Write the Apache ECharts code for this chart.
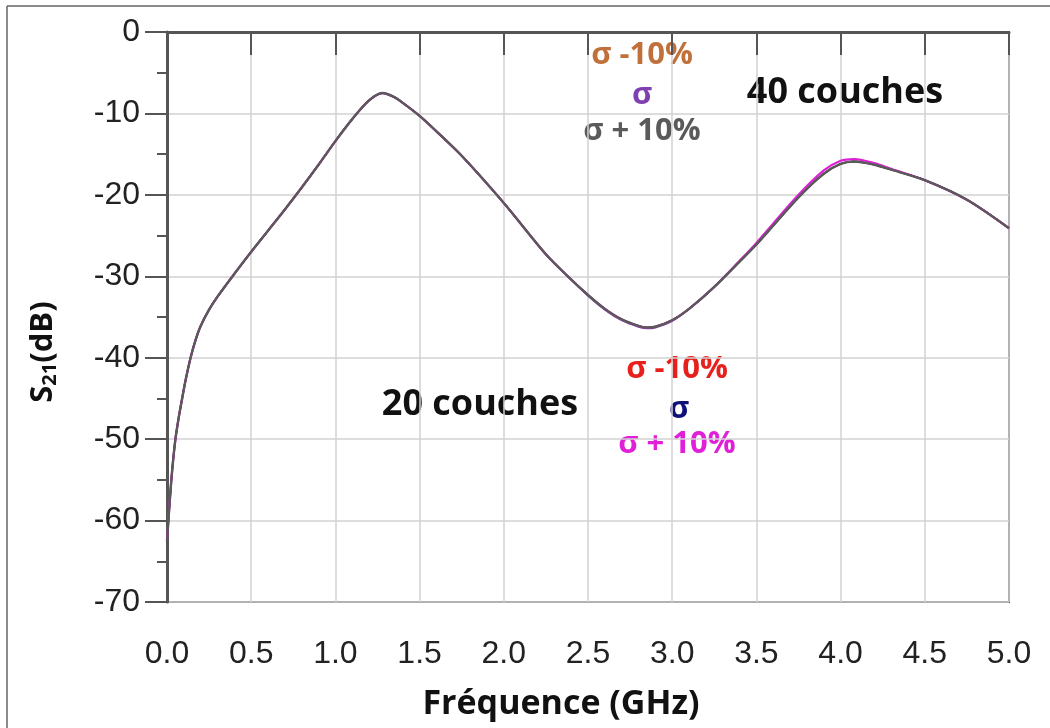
<!DOCTYPE html>
<html lang="fr">
<head>
    <meta charset="UTF-8">
    <title>S21 - 20 / 40 couches</title>
    <style>
        body { margin: 0; background: #fff; }
        #chart { width: 1050px; height: 728px; }
    </style>
</head>
<body>
    <div id="chart"></div>
    <script src="https://cdn.jsdelivr.net/npm/echarts@6/dist/echarts.min.js"></script>
    <script>
        // fréquence (GHz)
        const freq = [0.0, 0.005, 0.015, 0.03, 0.05, 0.07, 0.09, 0.11, 0.14, 0.17, 0.2, 0.25, 0.3, 0.4, 0.5, 0.6, 0.7, 0.8, 0.9, 1.0, 1.1, 1.2, 1.28, 1.35, 1.4, 1.5, 1.6, 1.75, 2.0, 2.25, 2.38, 2.5, 2.6, 2.7, 2.8, 2.85, 2.9, 3.0, 3.1, 3.25, 3.4, 3.5, 3.75, 3.9, 4.0, 4.08, 4.2, 4.3, 4.5, 4.75, 5.0];

        // 20 couches
        const s20Minus = [-62.5, -61, -58, -54, -50, -47.3, -45, -42.8, -40, -37.8, -36.1, -34.1, -32.5, -29.7, -27, -24.4, -21.8, -19.1, -16.3, -13.4, -10.7, -8.4, -7.5, -8, -8.7, -10.3, -12.2, -15.2, -21, -27.3, -30, -32.3, -34, -35.3, -36.1, -36.3, -36.2, -35.4, -34, -31.3, -28.2, -26.1, -20.3, -17.4, -16.2, -15.9, -16.3, -16.9, -18.2, -20.6, -24.1];
        const s20Nom = [-62.5, -61, -58, -54, -50, -47.3, -45, -42.8, -40, -37.8, -36.1, -34.1, -32.5, -29.7, -27, -24.4, -21.8, -19.1, -16.3, -13.4, -10.7, -8.4, -7.5, -8, -8.7, -10.3, -12.2, -15.2, -21, -27.3, -30, -32.3, -34, -35.3, -36.1, -36.3, -36.2, -35.4, -34, -31.3, -28.2, -26.1, -20.3, -17.4, -16.2, -15.9, -16.3, -16.9, -18.2, -20.6, -24.1];
        const s20Plus = [-62.5, -61, -58, -54, -50, -47.3, -45, -42.8, -40, -37.8, -36.1, -34.1, -32.5, -29.7, -27, -24.4, -21.8, -19.1, -16.3, -13.4, -10.7, -8.4, -7.5, -8, -8.7, -10.3, -12.2, -15.2, -21, -27.3, -30, -32.3, -34, -35.3, -36.1, -36.3, -36.2, -35.4, -34, -31.3, -28.1, -25.9, -20.0, -17.0, -15.8, -15.6, -16.1, -16.8, -18.2, -20.6, -24.1];

        // 40 couches
        const s40Minus = [-62.5, -61, -58, -54, -50, -47.3, -45, -42.8, -40, -37.8, -36.1, -34.1, -32.5, -29.7, -27, -24.4, -21.8, -19.1, -16.3, -13.4, -10.7, -8.4, -7.5, -8, -8.7, -10.3, -12.2, -15.2, -21, -27.3, -30, -32.3, -34, -35.3, -36.1, -36.3, -36.2, -35.4, -34, -31.3, -28.2, -26.1, -20.3, -17.4, -16.2, -15.9, -16.3, -16.9, -18.2, -20.6, -24.1];
        const s40Nom = [-62.5, -61, -58, -54, -50, -47.3, -45, -42.8, -40, -37.8, -36.1, -34.1, -32.5, -29.7, -27, -24.4, -21.8, -19.1, -16.3, -13.4, -10.7, -8.4, -7.5, -8, -8.7, -10.3, -12.2, -15.2, -21, -27.3, -30, -32.4, -34.1, -35.4, -36.2, -36.4, -36.3, -35.5, -34, -31.3, -28.2, -26.1, -20.3, -17.4, -16.2, -15.9, -16.3, -16.9, -18.2, -20.6, -24.1];
        const s40Plus = [-62.5, -61, -58, -54, -50, -47.3, -45, -42.8, -40, -37.8, -36.1, -34.1, -32.5, -29.7, -27, -24.4, -21.8, -19.1, -16.3, -13.4, -10.7, -8.4, -7.5, -8, -8.7, -10.3, -12.2, -15.2, -21, -27.3, -30, -32.3, -34, -35.3, -36.1, -36.3, -36.2, -35.4, -34, -31.3, -28.2, -26.1, -20.3, -17.4, -16.2, -15.9, -16.3, -16.9, -18.2, -20.6, -24.1];

        const chart = echarts.init(document.getElementById('chart'));

        function mk(name, vals, color, w) {
            return {
                name: name,
                type: 'line',
                data: freq.map(function (f, i) { return [f, vals[i]]; }),
                showSymbol: false,
                smooth: 0.3,
                lineStyle: { color: color, width: w },
                itemStyle: { color: color }
            };
        }

        const fnt = 'Open Sans';
        function txt(x, y, s, color, size) {
            return {
                type: 'text', x: x, y: y,
                style: {
                    text: s, fill: color, font: 'bold ' + size + 'px "' + fnt + '"',
                    align: 'center', verticalAlign: 'middle'
                }
            };
        }

        chart.setOption({
            animation: false,
            grid: { left: 167, right: 41, top: 32, bottom: 126, show: true, borderColor: '#555', borderWidth: 2 },
            xAxis: {
                type: 'value', min: 0, max: 5, interval: 0.5,
                axisLine: { lineStyle: { color: '#555', width: 3 } },
                axisTick: { show: true, length: 23, lineStyle: { color: '#555', width: 2 } },
                axisLabel: {
                    margin: 36, fontFamily: 'Liberation Sans', fontSize: 32, color: '#222',
                    formatter: function (v) { return v.toFixed(1); }
                },
                splitLine: { show: true, lineStyle: { color: '#d2d2d2', width: 1.5 } }
            },
            yAxis: {
                type: 'value', min: -70, max: 0, interval: 10,
                axisLine: { show: true, lineStyle: { color: '#555', width: 3 } },
                axisTick: { show: true, length: 22, lineStyle: { color: '#555', width: 2 } },
                minorTick: { show: true, splitNumber: 2, length: 10, lineStyle: { color: '#555', width: 2 } },
                axisLabel: { margin: 27, fontFamily: 'Liberation Sans', fontSize: 32, color: '#222' },
                splitLine: { show: true, lineStyle: { color: '#d2d2d2', width: 1.5 } }
            },
            series: [
                mk('20 couches σ-10%', s20Minus, '#e8201c', 1.5),
                mk('20 couches σ', s20Nom, '#10107a', 1.5),
                mk('40 couches σ-10%', s40Minus, '#c0703a', 1.5),
                mk('40 couches σ', s40Nom, '#8040b0', 1.8),
                mk('20 couches σ+10%', s20Plus, '#e020d8', 2.2),
                mk('40 couches σ+10%', s40Plus, '#5a5a5a', 2.4)
            ],
            graphic: [
                { type: 'line', shape: { x1: 7, y1: 6, x2: 1050, y2: 6 }, style: { stroke: '#666', lineWidth: 1.5 } },
                { type: 'line', shape: { x1: 7, y1: 6, x2: 7, y2: 728 }, style: { stroke: '#666', lineWidth: 1.5 } },
                txt(642, 55, 'σ -10%', '#c0703a', 31),
                txt(642, 95, 'σ', '#8040b0', 31),
                txt(642, 131, 'σ + 10%', '#5a5a5a', 31),
                txt(845, 93, '40 couches', '#111', 36),
                txt(480, 405, '20 couches', '#111', 36),
                txt(677, 369, 'σ -10%', '#e8201c', 31),
                txt(679, 409, 'σ', '#10107a', 31),
                txt(677, 444, 'σ + 10%', '#e020d8', 31),
                txt(561, 704, 'Fréquence (GHz)', '#111', 34),
                {
                    type: 'text', x: 43, y: 352, rotation: Math.PI / 2,
                    style: {
                        text: '{s|S}{sub|21}{s|(dB)}', align: 'center', verticalAlign: 'middle',
                        rich: {
                            s: { fontFamily: fnt, fontWeight: 'bold', fontSize: 31, fill: '#111', lineHeight: 38 },
                            sub: { fontFamily: fnt, fontWeight: 'bold', fontSize: 20, fill: '#111', padding: [14, 0, 0, 0], lineHeight: 38 }
                        }
                    }
                }
            ]
        });
    </script>
</body>
</html>
